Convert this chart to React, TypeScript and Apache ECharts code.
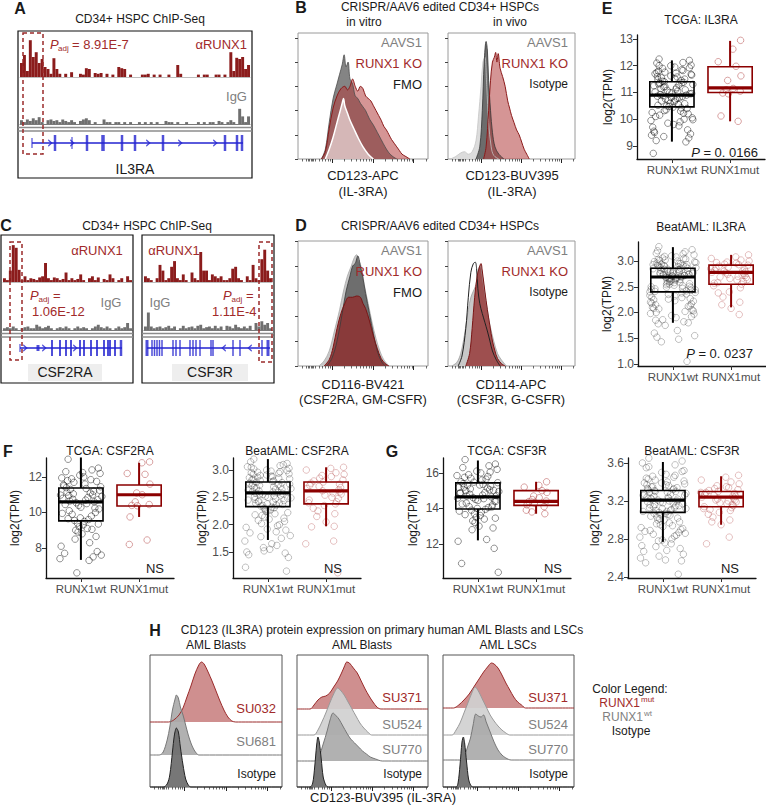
import React, { useEffect, useRef } from 'react';
import * as echarts from 'echarts';

const FONT = "'Liberation Sans', Arial, Helvetica, sans-serif";
const INK = '#1a1a1a';
const GREY_TXT = '#808080';
const RED_TXT = '#a12a2a';
const RED_BAR = '#8b1c1c';
const IGG_BAR = '#6f6f6f';
const GENE_BLUE = '#2323d0';

// ---------- ChIP-seq coverage (relative height per bin) ----------
const IL3RA_RUNX1 = [0.35,0.55,0.15,0.92,0.5,0.62,0.35,0.45,0.25,0.2,0.08,0.47,0.2,0.08,0,0.08,0,0.12,0,0,0.08,0.06,0.22,0.2,0,0.1,0.08,0.1,0,0.08,0,0.06,0,0.25,0.22,0.2,0,0.06,0,0,0,0.06,0.06,0.08,0,0.06,0,0.06,0,0,0.06,0,0,0.3,0.08,0,0,0,0,0,0.06,0,0.06,0.06,0,0,0.06,0.06,0,0.06,0,0.62,0.15,0.48,0.45,0.5,0.2,0.3];
const IL3RA_IGG = [0.1,0.05,0.12,0.08,0.15,0.1,0.18,0.05,0,0.1,0.12,0.08,0.1,0.05,0.12,0.08,0.05,0.1,0.05,0,0.08,0.12,0.15,0.1,0,0.05,0,0,0.12,0.05,0.05,0,0.05,0.05,0,0.05,0,0.05,0,0,0.05,0,0.05,0,0.05,0,0.05,0,0,0.08,0.05,0.05,0,0.05,0,0,0.05,0,0,0,0.05,0,0.05,0,0.05,0.05,0,0.08,0.05,0,0.05,0.1,0.05,0,0.4,0.2,0.05,0.2];
const CSF2RA_RUNX1 = [0.1,0.05,0.3,0.97,0.9,0.32,0.05,0.15,0.05,0.1,0.08,0.05,0.12,0.15,0.5,0.1,0.05,0.12,0.1,0.05,0.08,0.25,0.05,0.1,0.05,0.08,0.2,0.05,0,0.1,0.15,0.05,0.12,0,0.08,0.05,0.2,0.1,0,0.05,0.1,0,0.15,0.05];
const CSF2RA_IGG = [0.05,0.08,0.05,0.1,0.05,0,0.05,0.08,0.1,0.05,0.05,0.15,0.1,0.05,0.08,0.12,0.05,0,0.05,0.08,0.05,0.1,0.05,0,0.05,0.1,0.05,0.08,0.05,0,0.05,0.1,0.15,0.08,0.05,0.1,0.05,0,0.05,0.1,0.05,0.08,0.2,0.05];
const CSF3R_RUNX1 = [0.15,0.1,0.05,0,0.1,0.45,0.3,0.05,0.1,0.4,0.55,0.1,0.05,0.2,0.05,0,0.25,0.1,0.05,0.79,0.3,0.3,0.05,0.2,0.15,0.1,0.15,0.05,0.05,0.1,0.35,0.4,0.1,0.05,0,0.15,0.05,0.45,0.1,0.05,0.6,0.85,0.3,0.1];
const CSF3R_IGG = [0.1,0.5,0.1,0.05,0.08,0.1,0.05,0.08,0.12,0.05,0.1,0,0.05,0.12,0.05,0.08,0.1,0.05,0.12,0.15,0.05,0.08,0.1,0.05,0.12,0.05,0.1,0,0.12,0.1,0.05,0.15,0.08,0.05,0.1,0.05,0.12,0,0.2,0.1,0.25,0.15,0.2,0.05];

// gene models: [position, width, height]
const IL3RA_SPAN = [14, 225];
const IL3RA_EXONS = [[14,1.2,10],[37,2.5,16],[54,1.2,12],[69,2.5,16],[85,3.5,16],[104,2.5,16],[117,2.5,16],[145,2.5,16],[207,2.5,16],[219,2.5,16],[224,2.5,16]];
const IL3RA_ARROWS = [32, 54, 130, 162, 197];
const CSF2RA_SPAN = [18, 120];
const CSF2RA_EXONS = [[18,1.2,8],[36,3,6],[50,2,16],[58,2,16],[64,2,16],[69,2,16],[78,2,16],[82,2,16],[89,2,16],[95,2,16],[102,2,16],[106,2,16],[108,2,16],[113,2,16],[119,2.5,16]];
const CSF2RA_ARROWS = [23, 42, 73];
const CSF3R_SPAN = [5, 128];
const CSF3R_EXONS = [[5,3,16],[10,1.5,16],[12.5,1.5,16],[15,1.5,16],[17.5,1.5,16],[20,1.5,16],[31,1.5,16],[34,1.5,16],[38,1.5,16],[48,1.5,16],[51,1.5,16],[54,1.5,16],[58,1.5,16],[69,1.5,16],[71,1.5,16],[91,1.5,16],[98,1.5,16],[120,1.5,16],[126,3,16]];
const CSF3R_ARROWS = [82, 108];

// ---------- flow histograms: [channel, relative count] ----------
const VITRO_AAVS1 = [[18,0],[21,0.08],[24,0.3],[27,0.5],[30,0.62],[32,0.7],[34,0.78],[35.5,0.86],[37,0.76],[38.5,0.8],[40,0.66],[42,0.62],[44,0.52],[46,0.5],[48,0.46],[50,0.43],[52,0.4],[55,0.33],[58,0.28],[61,0.22],[64,0.16],[67,0.1],[70,0.05],[73,0.02],[76,0]];
const VITRO_KO = [[18,0],[21,0.06],[24,0.25],[27,0.42],[30,0.52],[33,0.58],[36,0.6],[38,0.57],[40,0.6],[42,0.66],[44,0.6],[46,0.56],[48,0.6],[50,0.58],[52,0.52],[54,0.5],[56,0.48],[58,0.44],[60,0.4],[62,0.36],[64,0.32],[66,0.27],[68,0.24],[70,0.2],[72,0.16],[74,0.13],[76,0.1],[78,0.07],[80,0.04],[83,0.02],[86,0]];
const VITRO_FMO = [[21,0],[24,0.08],[27,0.18],[30,0.3],[32,0.38],[34,0.46],[35,0.5],[36,0.44],[38,0.38],[40,0.32],[43,0.25],[46,0.18],[50,0.1],[54,0.04],[58,0]];
const VIVO_ISO = [[2,0],[6,0.02],[10,0.05],[13,0.06],[16,0.04],[19,0.06],[22,0.15],[24,0.35],[26,0.6],[27.5,0.8],[29,0.84],[30.5,0.6],[32,0.3],[34,0.1],[36,0.03],[40,0]];
const VIVO_AAVS1 = [[22,0],[25,0.1],[27,0.4],[28.5,0.8],[30,0.97],[31,0.9],[32,0.65],[33.5,0.4],[35,0.22],[37,0.1],[40,0.04],[44,0]];
const VIVO_KO = [[28,0],[30,0.1],[32,0.4],[33.5,0.65],[35,0.8],[36.5,0.84],[37.5,0.88],[38.5,0.8],[39.5,0.87],[41,0.75],[43,0.68],[45,0.6],[47,0.48],[48.5,0.42],[50,0.36],[52,0.3],[54,0.24],[56,0.2],[58,0.14],[60,0.08],[62,0.04],[64,0]];
const GM_AAVS1 = [[16,0],[20,0.04],[24,0.12],[28,0.28],[32,0.45],[35,0.6],[38,0.72],[41,0.8],[43,0.86],[45,0.89],[47,0.84],[49,0.78],[51,0.65],[54,0.5],[57,0.35],[60,0.22],[63,0.12],[66,0.05],[70,0]];
const GM_FMO = [[22,0],[26,0.06],[30,0.2],[34,0.42],[37,0.6],[40,0.72],[42,0.8],[44,0.82],[46,0.88],[48,0.8],[50,0.7],[52,0.58],[55,0.42],[58,0.26],[61,0.12],[64,0.04],[67,0]];
const GM_KO = [[20,0],[24,0.05],[27,0.15],[30,0.3],[33,0.42],[36,0.5],[39,0.55],[42,0.55],[45,0.56],[48,0.55],[50,0.5],[52,0.46],[55,0.36],[58,0.24],[61,0.14],[64,0.06],[67,0.02],[70,0]];
const G_AAVS1 = [[3,0],[7,0.03],[10,0.1],[13,0.25],[16,0.45],[18,0.55],[20,0.6],[22,0.65],[24,0.78],[25.5,0.8],[27,0.72],[29,0.58],[31,0.45],[33,0.33],[36,0.2],[39,0.1],[42,0.05],[46,0]];
const G_ISO = [[8,0],[11,0.08],[14,0.3],[16,0.55],[18,0.75],[20,0.82],[21.5,0.83],[22.5,0.78],[23.5,0.62],[25,0.5],[27,0.42],[29,0.35],[31,0.28],[33,0.2],[35,0.12],[38,0.05],[41,0]];
const G_KO = [[14,0],[17,0.1],[19,0.3],[21,0.55],[23,0.72],[25,0.8],[26,0.82],[27,0.76],[29,0.6],[31,0.45],[33,0.32],[35,0.2],[37,0.12],[39,0.06],[42,0.02],[45,0]];

// primary AML offset histograms: [channel, height]
const H1_SU032 = [[14,0],[18,2],[22,7],[25,14],[28,25],[31,36],[34,48],[37,57],[39,60],[41,58],[44,50],[47,41],[50,31],[53,21],[56,12],[59,5],[62,1],[65,0]];
const H1_SU681 = [[7,0],[10,3],[13,15],[15,28],[17,45],[19,56],[20,60],[21.5,57],[23,48],[25,40],[27,30],[29,20],[31,12],[33,6],[35,2],[37,0]];
const H1_ISO = [[10,0],[13,3],[15,12],[17,35],[18.5,52],[20,59],[21.5,55],[23,40],[25,22],[27,8],[29,2],[31,0]];
const H2_SU371 = [[10,0],[13,4],[16,9],[19,12],[22,13],[25,16],[28,22],[31,28],[34,36],[36,42],[38,47],[40,46],[43,41],[46,36],[49,28],[52,20],[55,13],[58,7],[61,2],[64,0]];
const H2_SU524 = [[13,0],[16,5],[19,13],[22,22],[25,32],[28,41],[31,47],[33,45],[36,40],[39,33],[42,26],[45,19],[48,12],[51,7],[54,3],[57,0]];
const H2_SU770 = [[14,0],[17,5],[20,17],[23,30],[25,40],[27.5,48],[30,45],[32,42],[35,35],[38,28],[41,22],[44,18],[47,14],[50,10],[53,7],[56,4],[60,2],[65,0]];
const H2_ISO = [[10,0],[12,4],[13.5,20],[15,42],[16,50],[17,45],[18.5,28],[20,10],[22,2],[24,0]];
const H3_SU371 = [[8,0],[12,3],[16,8],[20,14],[24,22],[28,30],[31,36],[34,41],[37,45],[39,44],[42,40],[45,33],[48,25],[51,18],[54,11],[57,6],[60,3],[63,0]];
const H3_SU524 = [[7,0],[10,5],[13,12],[16,22],[19,32],[22,42],[24.5,48],[27,44],[30,36],[33,28],[36,20],[39,14],[42,9],[45,5],[48,2],[51,0]];
const H3_SU770 = [[15,0],[17,6],[19,14],[21,22],[23,35],[25,46],[27,44],[29,43],[31,45],[33,38],[36,28],[39,18],[42,10],[45,5],[48,2],[52,0]];
const H3_ISO = [[10,0],[11.5,4],[13,22],[14.5,45],[15.5,50],[16.5,44],[18,25],[19.5,8],[21,2],[23,0]];

const FLOW_MAJOR = [26, 57.5, 89];
const FLOW_ZERO = [3, 6, 8, 9, 10, 11, 12];

// ---------- expression (log2 TPM) ----------
const GROUPS = ['RUNX1wt', 'RUNX1mut'];
const TCGA_IL3RA_WT = [12.25,12.2,12.12,12.1,12.02,12.0,11.95,11.9,11.85,11.8,11.76,11.72,11.7,11.65,11.6,11.58,11.55,11.5,11.48,11.45,11.4,11.38,11.35,11.3,11.28,11.25,11.2,11.18,11.15,11.1,11.08,11.05,11.0,10.98,10.95,10.92,10.9,10.88,10.85,10.82,10.8,10.75,10.72,10.7,10.65,10.6,10.55,10.5,10.48,10.45,10.4,10.35,10.3,10.25,10.2,10.1,10.05,10.0,9.95,9.9,9.85,9.8,9.7,9.6,9.5,9.45,9.4,9.3,9.2,9.15,8.72,12.0,11.92,11.82,11.75,11.68,11.62,11.52,11.42,11.36,11.32,11.22,11.12,11.02,10.96,10.86,10.78,10.68,10.58,10.52,10.42,10.32,10.22,10.15,9.98,9.75,9.55,9.35];
const TCGA_IL3RA_MUT = [12.95,12.62,12.15,11.98,11.62,11.45,11.15,11.1,11.05,10.98,10.95,10.12,9.92];
const TCGA_IL3RA_BOX = [[9.16,10.46,10.9,11.4,12.2],[9.92,11.0,11.17,11.96,12.93]];
const BEAT_IL3RA_WT = [3.28,3.22,3.18,3.15,3.12,3.1,3.08,3.06,3.05,3.03,3.02,3.0,2.99,2.98,2.96,2.95,2.94,2.93,2.92,2.91,2.9,2.89,2.88,2.87,2.86,2.85,2.84,2.83,2.82,2.81,2.8,2.79,2.78,2.77,2.76,2.75,2.74,2.73,2.72,2.71,2.7,2.69,2.68,2.67,2.66,2.65,2.64,2.62,2.6,2.58,2.56,2.54,2.52,2.5,2.48,2.46,2.44,2.42,2.4,2.38,2.35,2.32,2.3,2.27,2.25,2.22,2.2,2.17,2.15,2.12,2.1,2.07,2.05,2.02,2.0,1.97,1.94,1.9,1.86,1.82,1.78,1.75,1.65,1.6,1.55,1.52,1.48,1.43,1.05,3.2,3.14,3.09,3.04,3.01,2.97,2.95,2.93,2.91,2.89,2.87,2.86,2.84,2.83,2.81,2.8,2.78,2.77,2.75,2.74,2.72,2.71,2.69,2.68,2.66,2.65,2.63,2.61,2.59,2.57,2.55,2.53,2.51,2.49,2.47,2.45,2.43,2.41,2.39,2.36,2.33,2.29,2.26,2.23,2.18,2.13,2.08,2.03,1.98,1.92,1.85,1.8];
const BEAT_IL3RA_MUT = [3.12,3.08,3.05,3.02,3.0,2.98,2.96,2.94,2.92,2.9,2.88,2.86,2.84,2.82,2.8,2.79,2.78,2.76,2.74,2.72,2.7,2.68,2.66,2.63,2.6,2.57,2.55,2.52,2.48,2.4,2.38,2.3,2.2,2.15,2.08,1.96,2.97,2.93,2.85,2.81,2.77,2.73,2.69,2.64,2.58];
const BEAT_IL3RA_BOX = [[1.8,2.4,2.69,2.86,3.27],[2.1,2.55,2.78,2.92,3.12]];
const TCGA_CSF2RA_WT = [13.0,12.5,12.4,12.3,12.2,12.1,12.0,11.9,11.85,11.8,11.7,11.6,11.5,11.45,11.4,11.35,11.3,11.2,11.15,11.1,11.05,11.0,10.95,10.9,10.85,10.8,10.75,10.7,10.65,10.6,10.55,10.5,10.4,10.3,10.2,10.1,10.0,9.9,9.8,9.7,9.6,9.55,9.5,9.4,9.3,9.2,9.1,9.0,8.9,8.8,8.65,8.5,8.3,8.1,7.8,7.7,7.6,7.5,7.4,7.3,6.6,12.25,11.95,11.75,11.55,11.25,10.98,10.72,10.45,10.25,9.95,9.65,9.35,9.05];
const TCGA_CSF2RA_MUT = [12.85,12.8,12.2,12.15,11.6,11.1,11.0,10.6,10.45,10.4,10.38,9.75,8.45,8.2];
const TCGA_CSF2RA_BOX = [[7.33,9.53,10.6,11.38,13.1],[9.75,10.37,11.0,11.55,12.8]];
const BEAT_CSF2RA_WT = [3.2,3.12,3.08,3.05,3.03,3.0,2.98,2.96,2.94,2.92,2.9,2.88,2.86,2.84,2.82,2.8,2.78,2.77,2.75,2.73,2.72,2.7,2.68,2.66,2.65,2.63,2.62,2.6,2.58,2.57,2.55,2.53,2.52,2.5,2.48,2.46,2.44,2.42,2.4,2.38,2.36,2.34,2.32,2.3,2.27,2.24,2.2,2.17,2.14,2.1,2.06,2.02,1.98,1.95,1.9,1.85,1.8,1.75,1.7,1.62,1.58,1.55,1.5,1.48,1.45,1.4,1.22,1.15,3.15,3.1,3.06,3.02,2.99,2.97,2.95,2.93,2.91,2.89,2.87,2.85,2.83,2.81,2.79,2.76,2.74,2.71,2.69,2.67,2.64,2.61,2.59,2.56,2.54,2.51,2.49,2.47,2.45,2.43,2.41,2.39,2.37,2.35,2.31,2.28,2.25,2.22,2.18,2.12,2.08,2.0,1.92,1.87,1.78,1.65,1.52];
const BEAT_CSF2RA_MUT = [3.05,3.03,3.0,2.95,2.92,2.9,2.88,2.85,2.82,2.8,2.78,2.76,2.74,2.72,2.7,2.68,2.66,2.64,2.62,2.6,2.58,2.56,2.54,2.5,2.48,2.45,2.42,2.4,2.38,2.35,2.3,2.25,2.2,2.15,2.05,1.97,1.96,1.7,1.65,1.12];
const BEAT_CSF2RA_BOX = [[1.72,2.33,2.58,2.78,3.2],[1.97,2.38,2.62,2.78,3.05]];
const TCGA_CSF3R_WT = [16.75,16.5,16.4,16.3,16.2,16.1,16.0,15.9,15.8,15.75,15.7,15.6,15.5,15.45,15.4,15.35,15.3,15.25,15.2,15.15,15.1,15.05,15.0,14.95,14.9,14.85,14.8,14.75,14.7,14.65,14.6,14.55,14.5,14.45,14.4,14.3,14.2,14.1,14.05,14.0,13.95,13.9,13.8,13.7,13.6,13.5,13.4,13.3,13.2,13.0,12.9,12.8,12.25,12.15,11.75,10.9,10.4,16.05,15.85,15.65,15.48,15.32,15.18,15.02,14.88,14.72,14.58,14.42,14.25,14.08,13.85,13.65,13.45];
const TCGA_CSF3R_MUT = [15.5,15.3,15.2,15.0,14.9,14.7,14.6,14.5,14.42,14.38,14.3,14.2,14.1,13.9,13.8,13.7];
const TCGA_CSF3R_BOX = [[12.2,13.97,14.65,15.44,16.7],[13.7,14.17,14.4,15.0,15.5]];
const BEAT_CSF3R_WT = [3.65,3.62,3.58,3.55,3.52,3.5,3.48,3.46,3.45,3.43,3.42,3.4,3.39,3.38,3.37,3.36,3.35,3.34,3.33,3.32,3.31,3.3,3.29,3.28,3.27,3.26,3.25,3.24,3.23,3.22,3.21,3.2,3.19,3.18,3.17,3.16,3.15,3.14,3.13,3.12,3.11,3.1,3.09,3.08,3.07,3.06,3.05,3.03,3.01,3.0,2.98,2.96,2.94,2.92,2.9,2.88,2.86,2.84,2.82,2.8,2.78,2.76,2.73,2.7,2.67,2.64,2.6,2.57,2.55,2.43,3.6,3.56,3.51,3.47,3.44,3.41,3.39,3.37,3.35,3.33,3.32,3.3,3.29,3.27,3.26,3.24,3.23,3.22,3.2,3.19,3.18,3.16,3.15,3.13,3.12,3.1,3.09,3.07,3.06,3.04,3.02,3.0,2.97,2.95,2.93,2.91,2.89,2.87,2.85,2.83,2.79,2.75,2.72,2.68,2.62,2.58];
const BEAT_CSF3R_MUT = [3.47,3.45,3.42,3.4,3.38,3.36,3.35,3.33,3.32,3.31,3.3,3.29,3.28,3.27,3.26,3.25,3.24,3.23,3.22,3.21,3.2,3.19,3.18,3.17,3.15,3.14,3.13,3.12,3.1,3.08,3.06,3.03,3.0,2.98,2.95,2.82,2.75,3.34,3.29,3.25,3.21,3.16,3.11];
const BEAT_CSF3R_BOX = [[2.77,3.08,3.21,3.31,3.61],[2.95,3.14,3.24,3.3,3.46]];

const JITTER = [-0.22,0.12,-0.05,0.3,-0.31,0.02,0.19,-0.14,0.26,-0.26,0.08,-0.1,0.33,-0.19,0.15,-0.02,0.23,-0.34,0.05,-0.08,0.28,-0.16,0.1,-0.28,0.17,-0.04,0.35,-0.23,0.0,0.21,-0.12,0.31,-0.36,0.07,-0.2,0.14,-0.29,0.25,-0.07,0.34,-0.15,0.03,-0.25,0.18,-0.33,0.09,-0.01,0.27,-0.18,0.13,-0.3,0.22,-0.11,0.32,-0.24,0.06,-0.35,0.16,-0.06,0.29,-0.13,0.04,-0.27,0.2,-0.03,0.24,-0.21,0.11,-0.32,0.36,-0.09];

function flowMinor() {
  const out: number[] = [...FLOW_ZERO];
  [26, 57.5, 89, 120.5].forEach((m) => {
    for (let k = 2; k <= 9; k++) {
      const v = m - 31.5 + 31.5 * Math.log10(k);
      if (v > 13 && v < 100) out.push(+v.toFixed(2));
    }
  });
  return out;
}

function buildOption() {
  const grids: any[] = [];
  const xAxis: any[] = [];
  const yAxis: any[] = [];
  const series: any[] = [];
  const els: any[] = [];
  const FLOW_MINOR = flowMinor();

  const addGrid = (g: any, xa: any, ya: any) => {
    const gi = grids.length;
    grids.push(g);
    xAxis.push({ gridIndex: gi, ...xa });
    yAxis.push({ gridIndex: gi, ...ya });
    return { g: gi, x: xAxis.length - 1, y: yAxis.length - 1 };
  };

  const txt = (text: string, x: number, y: number, o: any = {}) => {
    els.push({
      type: 'text', x, y, rotation: o.rot || 0, silent: true, z: 20,
      style: {
        text, fill: o.color || INK, fontSize: o.size || 12, fontFamily: FONT,
        fontWeight: o.bold ? 'bold' : 'normal', fontStyle: o.italic ? 'italic' : 'normal',
        textAlign: o.align || 'center', align: o.align || 'center',
        textVerticalAlign: 'middle', verticalAlign: 'middle', rich: o.rich,
      },
    });
  };
  const rect = (x: number, y: number, w: number, h: number, o: any = {}) => {
    els.push({ type: 'rect', silent: true, z: o.z ?? 1, shape: { x, y, width: w, height: h }, style: { fill: o.fill || 'none', stroke: o.stroke || 'none', lineWidth: o.lw || 1, lineDash: o.dash } });
  };
  const hline = (x1: number, x2: number, y: number, color: string, lw: number) => {
    els.push({ type: 'line', silent: true, z: 1, shape: { x1, y1: y, x2, y2: y }, style: { stroke: color, lineWidth: lw } });
  };

  // ---------- ChIP helpers ----------
  const chip = (left: number, top: number, width: number, height: number, data: number[], color: string, axisColor: string) => {
    const ax = addGrid({ left, top, width, height },
      { type: 'category', data: data.map((_, i) => String(i)), boundaryGap: true, axisLine: { show: true, lineStyle: { color: axisColor, width: 1 } }, axisTick: { show: false }, axisLabel: { show: false }, splitLine: { show: false } },
      { type: 'value', min: 0, max: 1, show: false });
    series.push({ type: 'bar', xAxisIndex: ax.x, yAxisIndex: ax.y, data, barCategoryGap: '0%', itemStyle: { color }, silent: true });
  };
  const gene = (left: number, top: number, width: number, height: number, span: number[], exons: number[][], arrows: number[], dir: number) => {
    const ax = addGrid({ left, top, width, height }, { type: 'value', min: 0, max: width, show: false }, { type: 'value', min: 0, max: 1, show: false });
    series.push({ type: 'line', xAxisIndex: ax.x, yAxisIndex: ax.y, data: [[span[0], 0.5], [span[1], 0.5]], symbol: 'none', lineStyle: { color: GENE_BLUE, width: 1.5 }, silent: true });
    series.push({ type: 'scatter', xAxisIndex: ax.x, yAxisIndex: ax.y, data: exons.map((e) => [e[0], 0.5, e[1], e[2]]), symbol: 'rect', symbolSize: (v: any) => [v[2], v[3]], itemStyle: { color: GENE_BLUE }, silent: true });
    series.push({ type: 'scatter', xAxisIndex: ax.x, yAxisIndex: ax.y, data: arrows.map((a) => [a, 0.5]), symbol: dir > 0 ? 'path://M0,0L4,4L0,8' : 'path://M4,0L0,4L4,8', symbolSize: [3.5, 6], itemStyle: { color: 'rgba(0,0,0,0)', borderColor: GENE_BLUE, borderWidth: 1.1 }, silent: true });
  };

  // ---------- Panel A ----------
  txt('A', 20, 8, { bold: true, size: 16 });
  txt('CD34+ HSPC ChIP-Seq', 140, 19);
  rect(18, 31, 234, 147, { stroke: '#111', lw: 1.2 });
  chip(20, 37, 230, 40, IL3RA_RUNX1, RED_BAR, '#bdbdbd');
  chip(20, 86, 230, 38, IL3RA_IGG, IGG_BAR, '#7a7a7a');
  hline(18, 252, 127.5, '#8c8c8c', 1.5);
  hline(18, 252, 131, '#8c8c8c', 1.5);
  gene(18, 134, 234, 18, IL3RA_SPAN, IL3RA_EXONS, IL3RA_ARROWS, 1);
  rect(23, 33, 20, 121, { stroke: '#9b2a2a', lw: 1.5, dash: [4, 3], z: 5 });
  txt('P', 50, 44, { italic: true, color: RED_TXT, align: 'left', size: 13 });
  txt('adj', 58, 48, { color: RED_TXT, align: 'left', size: 8 });
  txt('= 8.91E-7', 72, 44, { color: RED_TXT, align: 'left', size: 13 });
  txt('αRUNX1', 247, 44, { color: RED_TXT, align: 'right', size: 13 });
  txt('IgG', 247, 96, { color: GREY_TXT, align: 'right', size: 13 });
  txt('IL3RA', 135, 169, { size: 14 });

  // ---------- Panel C ----------
  txt('C', 6, 225, { bold: true, size: 16 });
  txt('CD34+ HSPC ChIP-Seq', 147, 226);
  rect(1, 235, 132, 148, { stroke: '#111', lw: 1.2 });
  rect(142, 235, 132, 148, { stroke: '#111', lw: 1.2 });
  chip(3, 244, 129, 38, CSF2RA_RUNX1, RED_BAR, '#bdbdbd');
  chip(3, 295, 129, 35, CSF2RA_IGG, IGG_BAR, '#7a7a7a');
  chip(144, 244, 128, 38, CSF3R_RUNX1, RED_BAR, '#bdbdbd');
  chip(144, 295, 128, 35, CSF3R_IGG, IGG_BAR, '#7a7a7a');
  hline(1, 133, 333.5, '#8c8c8c', 1.5);
  hline(1, 133, 337, '#8c8c8c', 1.5);
  hline(142, 274, 333.5, '#8c8c8c', 1.5);
  hline(142, 274, 337, '#8c8c8c', 1.5);
  gene(2, 340, 131, 16, CSF2RA_SPAN, CSF2RA_EXONS, CSF2RA_ARROWS, 1);
  gene(142, 340, 132, 16, CSF3R_SPAN, CSF3R_EXONS, CSF3R_ARROWS, -1);
  rect(28, 364, 74, 17, { fill: '#eeeeee', z: 0 });
  rect(172, 364, 76, 17, { fill: '#eeeeee', z: 0 });
  txt('CSF2RA', 65, 372, { size: 14 });
  txt('CSF3R', 210, 372, { size: 14 });
  rect(10, 242, 12, 118, { stroke: '#9b2a2a', lw: 1.5, dash: [4, 3], z: 5 });
  rect(259, 242, 13, 120, { stroke: '#9b2a2a', lw: 1.5, dash: [4, 3], z: 5 });
  txt('αRUNX1', 97, 250, { color: RED_TXT, size: 13 });
  txt('αRUNX1', 174, 250, { color: RED_TXT, size: 13 });
  txt('P', 30, 295, { italic: true, color: RED_TXT, align: 'left', size: 13 });
  txt('adj', 38.5, 299, { color: RED_TXT, align: 'left', size: 8 });
  txt('=', 53, 295, { color: RED_TXT, align: 'left', size: 13 });
  txt('1.06E-12', 32, 311, { color: RED_TXT, align: 'left', size: 13 });
  txt('IgG', 111, 302, { color: GREY_TXT, size: 13 });
  txt('IgG', 160, 302, { color: GREY_TXT, size: 13 });
  txt('P', 223, 295, { italic: true, color: RED_TXT, align: 'left', size: 13 });
  txt('adj', 231.5, 299, { color: RED_TXT, align: 'left', size: 8 });
  txt('=', 246, 295, { color: RED_TXT, align: 'left', size: 13 });
  txt('1.11E-4', 212, 311, { color: RED_TXT, align: 'left', size: 13 });

  // ---------- flow helpers ----------
  const flowGrid = (left: number, top: number, width: number, height: number, ymax: number, yTicks: boolean, border: string) => {
    const gi = grids.length;
    grids.push({ left, top, width, height, show: true, borderColor: border, borderWidth: 1, backgroundColor: 'rgba(0,0,0,0)' });
    xAxis.push({ gridIndex: gi, type: 'value', min: 0, max: 100, position: 'bottom', axisLine: { show: false }, axisLabel: { show: false }, splitLine: { show: false }, axisTick: { show: true, customValues: FLOW_MAJOR, length: 4, lineStyle: { color: '#222', width: 1 } } });
    const xi = xAxis.length - 1;
    xAxis.push({ gridIndex: gi, type: 'value', min: 0, max: 100, position: 'bottom', axisLine: { show: false }, axisLabel: { show: false }, splitLine: { show: false }, axisTick: { show: true, customValues: FLOW_MINOR, length: 2.5, lineStyle: { color: '#444', width: 0.8 } } });
    yAxis.push({ gridIndex: gi, type: 'value', min: 0, max: ymax, axisLine: { show: false }, axisLabel: { show: false }, splitLine: { show: false }, axisTick: { show: yTicks, customValues: [0, 0.2, 0.4, 0.6, 0.8, 1.0], length: 3, lineStyle: { color: '#444' } } });
    return { x: xi, y: yAxis.length - 1 };
  };
  const curve = (ax: any, pts: number[][], fill: string, stroke: string, lw: number) => {
    series.push({ type: 'line', xAxisIndex: ax.x, yAxisIndex: ax.y, data: pts, smooth: 0.35, symbol: 'none', showSymbol: false, lineStyle: { color: stroke, width: lw }, areaStyle: { color: fill, opacity: 1 }, silent: true });
  };

  // ---------- Panel B ----------
  txt('B', 301, 7, { bold: true, size: 16 });
  txt('CRISPR/AAV6 edited CD34+ HSPCs', 440, 6.5);
  txt('in vitro', 364, 21.5);
  txt('in vivo', 510, 21.5);
  const b1 = flowGrid(298, 33, 130, 126, 1.04, true, '#9a9a9a');
  curve(b1, VITRO_AAVS1, 'rgba(125,125,125,0.95)', '#4d4d4d', 0.8);
  curve(b1, VITRO_KO, 'rgba(178,62,62,0.55)', '#8b1a1a', 1);
  curve(b1, VITRO_FMO, 'rgba(236,222,222,0.7)', '#ffffff', 1.5);
  const b2 = flowGrid(448, 33, 127, 126, 1.04, true, '#9a9a9a');
  curve(b2, VIVO_ISO, 'rgba(218,218,218,0.95)', '#c4c4c4', 0.8);
  curve(b2, VIVO_AAVS1, 'rgba(95,95,95,0.9)', '#333333', 0.8);
  curve(b2, VIVO_KO, 'rgba(178,62,62,0.55)', '#8b1a1a', 1);
  txt('AAVS1', 422, 42, { color: GREY_TXT, align: 'right', size: 13 });
  txt('RUNX1 KO', 422, 63, { color: RED_TXT, align: 'right', size: 13 });
  txt('FMO', 422, 84, { align: 'right', size: 13 });
  txt('AAVS1', 568, 42, { color: GREY_TXT, align: 'right', size: 13 });
  txt('RUNX1 KO', 568, 63, { color: RED_TXT, align: 'right', size: 13 });
  txt('Isotype', 568, 84, { align: 'right', size: 12 });
  txt('CD123-APC', 363, 175, { size: 13 });
  txt('(IL-3RA)', 363, 191, { size: 13 });
  txt('CD123-BUV395', 512, 175, { size: 13 });
  txt('(IL-3RA)', 512, 191, { size: 13 });

  // ---------- Panel D ----------
  txt('D', 301, 225, { bold: true, size: 16 });
  txt('CRISPR/AAV6 edited CD34+ HSPCs', 440, 226);
  const d1 = flowGrid(298, 241, 130, 125, 1.0, true, '#9a9a9a');
  curve(d1, GM_AAVS1, 'rgba(200,200,200,1)', '#a8a8a8', 0.8);
  curve(d1, GM_FMO, 'rgba(105,105,105,0.95)', '#3a3a3a', 0.8);
  curve(d1, GM_KO, 'rgba(140,52,52,0.9)', '#7a1515', 1);
  const d2 = flowGrid(448, 241, 127, 125, 1.0, true, '#9a9a9a');
  curve(d2, G_AAVS1, 'rgba(200,200,200,1)', '#a0a0a0', 0.8);
  curve(d2, G_ISO, 'rgba(255,255,255,0)', '#222222', 1);
  curve(d2, G_KO, 'rgba(150,58,58,0.85)', '#7a1515', 1);
  txt('AAVS1', 422, 250, { color: GREY_TXT, align: 'right', size: 13 });
  txt('RUNX1 KO', 422, 271, { color: RED_TXT, align: 'right', size: 13 });
  txt('FMO', 422, 292, { align: 'right', size: 13 });
  txt('AAVS1', 568, 250, { color: GREY_TXT, align: 'right', size: 13 });
  txt('RUNX1 KO', 568, 271, { color: RED_TXT, align: 'right', size: 13 });
  txt('Isotype', 568, 292, { align: 'right', size: 12 });
  txt('CD116-BV421', 363, 384, { size: 13 });
  txt('(CSF2RA, GM-CSFR)', 363, 399, { size: 13 });
  txt('CD114-APC', 511, 384, { size: 13 });
  txt('(CSF3R, G-CSFR)', 511, 399, { size: 13 });

  // ---------- expression panels ----------
  const expr = (c: any) => {
    const ax = addGrid({ left: c.left, top: c.top, width: c.width, height: c.height },
      { type: 'value', min: 0.4, max: 2.6, splitLine: { show: false }, axisLine: { show: true, onZero: false, lineStyle: { color: '#111', width: 1.3 } }, axisTick: { show: true, customValues: [1, 2], length: 4, lineStyle: { color: '#333', width: 1 } }, axisLabel: { show: true, customValues: [1, 2], formatter: (v: number) => GROUPS[Math.round(v) - 1], color: '#4d4d4d', fontSize: 11.5, fontFamily: FONT, margin: 5 } },
      { type: 'value', min: c.ymin, max: c.ymax, splitLine: { show: false }, axisLine: { show: true, onZero: false, lineStyle: { color: '#111', width: 1.3 } }, axisTick: { show: true, customValues: c.ticks, length: 4, lineStyle: { color: '#333' } }, axisLabel: { show: true, customValues: c.ticks, formatter: (v: number) => v.toFixed(c.dec), color: '#4d4d4d', fontSize: 12, fontFamily: FONT, margin: 4 }, name: 'log2(TPM)', nameLocation: 'middle', nameGap: c.nameGap, nameRotate: 90, nameTextStyle: { color: INK, fontSize: 12, fontFamily: FONT } });
    series.push({ type: 'scatter', xAxisIndex: ax.x, yAxisIndex: ax.y, silent: true, z: 3, symbol: 'circle', symbolSize: 6.5,
      data: c.wt.map((v: number, i: number) => [1 + JITTER[(i * 3) % JITTER.length] * c.wtSpread, v]),
      itemStyle: { color: 'rgba(255,255,255,0)', borderColor: `rgba(0,0,0,${c.wtAlpha})`, borderWidth: 0.9 } });
    series.push({ type: 'scatter', xAxisIndex: ax.x, yAxisIndex: ax.y, silent: true, z: 3, symbol: 'circle', symbolSize: 6.5,
      data: c.mut.map((v: number, i: number) => [2 + JITTER[(i * 7 + 3) % JITTER.length] * c.mutSpread, v]),
      itemStyle: { color: 'rgba(255,255,255,0)', borderColor: `rgba(165,40,40,${c.mutAlpha})`, borderWidth: 0.9 } });
    series.push({
      type: 'custom', xAxisIndex: ax.x, yAxisIndex: ax.y, silent: true, z: 4,
      data: [[1, ...c.box[0]], [2, ...c.box[1]]],
      encode: { x: 0, y: [1, 2, 3, 4, 5] },
      renderItem: (params: any, api: any) => {
        const x = api.value(0);
        const col = params.dataIndex === 0 ? '#000000' : '#8b0000';
        const pt = (v: number) => api.coord([x, v]);
        const lo = pt(api.value(1)), q1 = pt(api.value(2)), md = pt(api.value(3)), q3 = pt(api.value(4)), hi = pt(api.value(5));
        const xl = api.coord([x - 0.38, api.value(3)])[0];
        const xr = api.coord([x + 0.38, api.value(3)])[0];
        return { type: 'group', children: [
          { type: 'line', shape: { x1: lo[0], y1: lo[1], x2: q1[0], y2: q1[1] }, style: { stroke: col, lineWidth: 2 } },
          { type: 'line', shape: { x1: q3[0], y1: q3[1], x2: hi[0], y2: hi[1] }, style: { stroke: col, lineWidth: 2 } },
          { type: 'rect', shape: { x: xl, y: q3[1], width: xr - xl, height: q1[1] - q3[1] }, style: { fill: 'none', stroke: col, lineWidth: 1.6 } },
          { type: 'line', shape: { x1: xl, y1: md[1], x2: xr, y2: md[1] }, style: { stroke: col, lineWidth: 3.2 } },
        ] };
      },
    });
  };

  // Panel E
  txt('E', 607, 8, { bold: true, size: 16 });
  txt('TCGA: IL3RA', 701, 20);
  expr({ left: 637, top: 35, width: 128, height: 124, ymin: 8.51, ymax: 13.15, ticks: [9, 10, 11, 12, 13], dec: 0, nameGap: 23, wt: TCGA_IL3RA_WT, mut: TCGA_IL3RA_MUT, box: TCGA_IL3RA_BOX, wtAlpha: 0.6, mutAlpha: 0.6, wtSpread: 1.0, mutSpread: 0.6 });
  txt('{i|P} = 0. 0166', 758, 152, { align: 'right', size: 13, rich: { i: { fontStyle: 'italic', fontSize: 13, fontFamily: FONT, fill: INK } } });
  txt('BeatAML: IL3RA', 701, 227);
  expr({ left: 638, top: 242, width: 128, height: 124, ymin: 0.96, ymax: 3.37, ticks: [1, 1.5, 2, 2.5, 3], dec: 1, nameGap: 25, wt: BEAT_IL3RA_WT, mut: BEAT_IL3RA_MUT, box: BEAT_IL3RA_BOX, wtAlpha: 0.35, mutAlpha: 0.4, wtSpread: 1.1, mutSpread: 1.0 });
  txt('{i|P} = 0. 0237', 753, 353, { align: 'right', size: 13, rich: { i: { fontStyle: 'italic', fontSize: 13, fontFamily: FONT, fill: INK } } });

  // Panels F, G
  txt('F', 8, 451, { bold: true, size: 16 });
  txt('TCGA: CSF2RA', 110, 451);
  txt('BeatAML: CSF2RA', 297, 451);
  expr({ left: 46, top: 458, width: 128, height: 120, ymin: 6.31, ymax: 13.07, ticks: [8, 10, 12], dec: 0, nameGap: 25, wt: TCGA_CSF2RA_WT, mut: TCGA_CSF2RA_MUT, box: TCGA_CSF2RA_BOX, wtAlpha: 0.6, mutAlpha: 0.6, wtSpread: 1.0, mutSpread: 0.6 });
  expr({ left: 233, top: 458, width: 128, height: 120, ymin: 1.024, ymax: 3.22, ticks: [1.5, 2, 2.5, 3], dec: 1, nameGap: 22, wt: BEAT_CSF2RA_WT, mut: BEAT_CSF2RA_MUT, box: BEAT_CSF2RA_BOX, wtAlpha: 0.35, mutAlpha: 0.4, wtSpread: 1.1, mutSpread: 1.0 });
  txt('NS', 155, 568, { size: 13 });
  txt('NS', 333, 568, { size: 13 });
  txt('G', 392, 451, { bold: true, size: 16 });
  txt('TCGA: CSF3R', 507, 451);
  txt('BeatAML: CSF3R', 692, 451);
  expr({ left: 443, top: 458, width: 128, height: 120, ymin: 10.08, ymax: 16.84, ticks: [12, 14, 16], dec: 0, nameGap: 24, wt: TCGA_CSF3R_WT, mut: TCGA_CSF3R_MUT, box: TCGA_CSF3R_BOX, wtAlpha: 0.6, mutAlpha: 0.6, wtSpread: 1.0, mutSpread: 0.6 });
  expr({ left: 628, top: 458, width: 128, height: 120, ymin: 2.39, ymax: 3.652, ticks: [2.4, 2.8, 3.2, 3.6], dec: 1, nameGap: 27, wt: BEAT_CSF3R_WT, mut: BEAT_CSF3R_MUT, box: BEAT_CSF3R_BOX, wtAlpha: 0.35, mutAlpha: 0.4, wtSpread: 1.1, mutSpread: 1.0 });
  txt('NS', 553, 568, { size: 13 });
  txt('NS', 730, 568, { size: 13 });

  // ---------- Panel H ----------
  txt('H', 155, 630, { bold: true, size: 16 });
  txt('CD123 (IL3RA) protein expression on primary human AML Blasts and LSCs', 382, 630);
  txt('AML Blasts', 216, 645);
  txt('AML Blasts', 362, 645);
  txt('AML LSCs', 508, 645);
  const RED_F = 'rgba(200,128,128,0.88)', RED_S = '#9a2a2a';
  const LIGHT_F = 'rgba(208,208,208,0.92)', LIGHT_S = '#9a9a9a';
  const MID_F = 'rgba(170,170,170,0.92)', MID_S = '#777777';
  const ISO_F = 'rgba(112,112,112,0.95)', ISO_S = '#222222';
  const hLayer = (left: number, width: number, baseY: number, pts: number[][], fill: string, stroke: string) => {
    const H = 72;
    const ax = addGrid({ left, top: baseY - H, width, height: H }, { type: 'value', min: 0, max: 100, show: false }, { type: 'value', min: 0, max: H, show: false });
    series.push({ type: 'line', xAxisIndex: ax.x, yAxisIndex: ax.y, data: [[0, 0], ...pts, [100, 0]], smooth: 0.3, symbol: 'none', showSymbol: false, lineStyle: { color: stroke, width: 1 }, areaStyle: { color: fill, opacity: 1 }, silent: true, clip: false });
  };
  flowGrid(150, 655, 132, 132, 1, false, '#555555');
  flowGrid(297, 655, 131, 132, 1, false, '#555555');
  flowGrid(443, 655, 131, 132, 1, false, '#555555');
  hLayer(150, 132, 722, H1_SU032, RED_F, RED_S);
  hLayer(150, 132, 755, H1_SU681, MID_F, MID_S);
  hLayer(150, 132, 787, H1_ISO, ISO_F, ISO_S);
  hLayer(297, 131, 709, H2_SU371, RED_F, RED_S);
  hLayer(297, 131, 735, H2_SU524, LIGHT_F, LIGHT_S);
  hLayer(297, 131, 761, H2_SU770, MID_F, MID_S);
  hLayer(297, 131, 787, H2_ISO, ISO_F, ISO_S);
  hLayer(443, 131, 708, H3_SU371, RED_F, RED_S);
  hLayer(443, 131, 735, H3_SU524, LIGHT_F, LIGHT_S);
  hLayer(443, 131, 760, H3_SU770, MID_F, MID_S);
  hLayer(443, 131, 787, H3_ISO, ISO_F, ISO_S);
  txt('SU032', 276, 708, { color: RED_TXT, align: 'right', size: 13 });
  txt('SU681', 276, 741, { color: GREY_TXT, align: 'right', size: 13 });
  txt('Isotype', 276, 774, { align: 'right', size: 12 });
  txt('SU371', 422, 697, { color: RED_TXT, align: 'right', size: 13 });
  txt('SU524', 422, 724, { color: GREY_TXT, align: 'right', size: 13 });
  txt('SU770', 422, 749, { color: GREY_TXT, align: 'right', size: 13 });
  txt('Isotype', 422, 774, { align: 'right', size: 12 });
  txt('SU371', 568, 697, { color: RED_TXT, align: 'right', size: 13 });
  txt('SU524', 568, 724, { color: GREY_TXT, align: 'right', size: 13 });
  txt('SU770', 568, 749, { color: GREY_TXT, align: 'right', size: 13 });
  txt('Isotype', 568, 774, { align: 'right', size: 12 });
  txt('CD123-BUV395 (IL-3RA)', 383, 797, { size: 13 });
  txt('Color Legend:', 630, 689, { size: 12 });
  txt('RUNX1', 640, 703, { color: RED_TXT, align: 'right', size: 12 });
  txt('mut', 641, 699, { color: RED_TXT, align: 'left', size: 8 });
  txt('RUNX1', 643, 717, { color: GREY_TXT, align: 'right', size: 12 });
  txt('wt', 644, 713, { color: GREY_TXT, align: 'left', size: 8 });
  txt('Isotype', 631, 731, { size: 12 });

  return {
    animation: false,
    backgroundColor: '#ffffff',
    textStyle: { fontFamily: FONT },
    grid: grids,
    xAxis,
    yAxis,
    series,
    graphic: { elements: els },
  };
}

export default function App() {
  const ref = useRef<HTMLDivElement>(null);
  useEffect(() => {
    document.body.style.margin = '0';
    const chart = echarts.init(ref.current!, null, { renderer: 'svg' });
    chart.setOption(buildOption() as any);
    return () => chart.dispose();
  }, []);
  return <div ref={ref} style={{ width: 766, height: 810, background: '#fff' }} />;
}
